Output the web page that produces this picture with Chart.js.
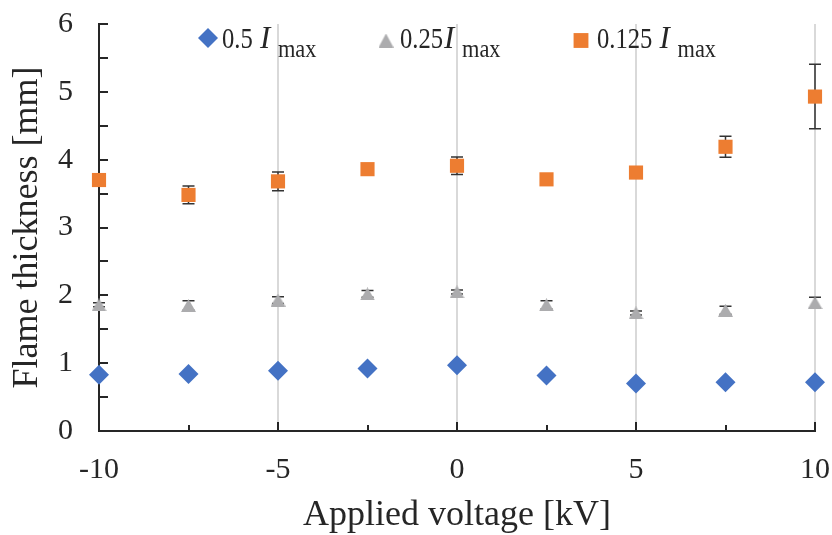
<!DOCTYPE html>
<html><head><meta charset="utf-8">
<script src="https://cdn.jsdelivr.net/npm/chart.js@4.4.1/dist/chart.umd.min.js"></script>
<style>html,body{margin:0;padding:0;background:#fff;}#wrap{position:relative;width:832px;height:535px;}canvas{display:block;}</style>
</head><body><div id="wrap"><canvas id="c" width="832" height="535"></canvas></div>
<script>
// ---- data ----
const voltage = [-10, -7.5, -5, -2.5, 0, 2.5, 5, 7.5, 10];
const thickness050 = [0.83, 0.84, 0.89, 0.92, 0.97, 0.82, 0.70, 0.72, 0.72];
const thickness025 = [1.86, 1.85, 1.93, 2.02, 2.05, 1.86, 1.74, 1.78, 1.89];
const thickness0125 = [3.70, 3.48, 3.68, 3.86, 3.91, 3.71, 3.81, 4.19, 4.93];
const error050 = [0.02, 0.02, 0.02, 0.02, 0.02, 0.02, 0.02, 0.02, 0.02];
const error025 = [0.03, 0.07, 0.05, 0.05, 0.03, 0.06, 0.03, 0.06, 0.08];
const error0125 = [0.05, 0.13, 0.14, 0.05, 0.13, 0.05, 0.05, 0.155, 0.475];
const xTickValues = [-10, -5, 0, 5, 10];
const xMinorTickValues = [-10, -7.5, -5, -2.5, 0, 2.5, 5, 7.5, 10];
const yTickValues = [0, 1, 2, 3, 4, 5, 6];
const yMinorTickValues = [0, 0.5, 1, 1.5, 2, 2.5, 3, 3.5, 4, 4.5, 5, 5.5, 6];
const seriesNumbers = ['0.5 ', '0.25', '0.125 '];
const seriesSymbol = 'I';
const seriesSubscript = 'max';
const xTitle = 'Applied voltage [kV]';
const yTitle = 'Flame thickness [mm]';

// ---- styles ----
const FONT = "'Liberation Serif', 'Times New Roman', serif";
const TEXT = '#262626';
const BLUE = '#4472C4', GREY = '#ACACAE', ORANGE = '#ED7D31';

function triangleImage(w, h, color) {
  const c = document.createElement('canvas');
  c.width = w; c.height = h;
  const g = c.getContext('2d');
  g.fillStyle = color;
  g.beginPath(); g.moveTo(w / 2, 0); g.lineTo(w, h); g.lineTo(0, h); g.closePath(); g.fill();
  return c;
}
const triImg = triangleImage(15, 13, GREY);
const triImgLegend = triangleImage(15, 14, GREY);

const pts = arr => voltage.map((v, i) => ({ x: v, y: arr[i] }));

const errorBars = {
  id: 'errorBars',
  beforeDatasetsDraw(chart) {
    const { ctx, scales: { x, y } } = chart;
    ctx.save();
    ctx.strokeStyle = '#333333';
    ctx.lineWidth = 1.5;
    chart.data.datasets.forEach(ds => {
      const err = ds.errors;
      if (!err) return;
      ds.data.forEach((p, i) => {
        const px = x.getPixelForValue(p.x);
        const top = y.getPixelForValue(p.y + err[i]);
        const bot = y.getPixelForValue(p.y - err[i]);
        ctx.beginPath();
        ctx.moveTo(px, top); ctx.lineTo(px, bot);
        ctx.moveTo(px - 6, top); ctx.lineTo(px + 6, top);
        ctx.moveTo(px - 6, bot); ctx.lineTo(px + 6, bot);
        ctx.stroke();
      });
    });
    ctx.restore();
  }
};

const axisTicks = {
  id: 'axisTicks',
  beforeDatasetsDraw(chart) {
    const { ctx, chartArea: a, scales: { x, y } } = chart;
    ctx.save();
    ctx.strokeStyle = TEXT;
    ctx.lineWidth = 2;
    ctx.beginPath();
    xMinorTickValues.forEach(v => {
      const px = Math.round(x.getPixelForValue(v));
      const len = xTickValues.includes(v) ? 9 : 6;
      ctx.moveTo(px, a.bottom); ctx.lineTo(px, a.bottom - len);
    });
    yMinorTickValues.forEach(v => {
      const py = Math.round(y.getPixelForValue(v));
      ctx.moveTo(a.left, py); ctx.lineTo(a.left + 9, py);
    });
    ctx.stroke();
    ctx.restore();
  }
};

const legendPlugin = {
  id: 'customLegend',
  afterDraw(chart) {
    const ctx = chart.ctx;
    const items = [
      { mx: 208, my: 38, tx: 222, style: 'rectRot', r: 10, color: BLUE },
      { mx: 386, my: 40.5, tx: 400, style: triImgLegend, r: 9, color: GREY },
      { mx: 581, my: 40.5, tx: 597, style: 'rect', r: 10.5, color: ORANGE }
    ];
    const base = 48;
    const sx = 0.82;
    items.forEach((it, i) => {
      ctx.save();
      ctx.fillStyle = it.color;
      Chart.helpers.drawPoint(ctx, { pointStyle: it.style, radius: it.r, borderWidth: 0, rotation: 0 }, it.mx, it.my);
      ctx.restore();
      ctx.save();
      ctx.fillStyle = TEXT;
      ctx.textBaseline = 'alphabetic';
      ctx.textAlign = 'left';
      ctx.font = '30px ' + FONT;
      const numW = ctx.measureText(seriesNumbers[i]).width * sx;
      ctx.save();
      ctx.translate(it.tx, base);
      ctx.scale(sx, 1);
      ctx.fillText(seriesNumbers[i], 0, 0);
      ctx.restore();
      const ix = it.tx + numW + 1;
      ctx.font = 'italic 31px ' + FONT;
      ctx.fillText(seriesSymbol, ix, base);
      ctx.save();
      ctx.translate(ix + 18, base + 8.7);
      ctx.scale(sx + 0.04, 1);
      ctx.font = '26px ' + FONT;
      ctx.fillText(seriesSubscript, 0, 0);
      ctx.restore();
      ctx.restore();
    });
  }
};

new Chart(document.getElementById('c'), {
  type: 'scatter',
  data: {
    datasets: [
      { label: '0.5 Imax', data: pts(thickness050), errors: error050, clip: false, pointStyle: 'rectRot', pointRadius: 10, pointHoverRadius: 10, backgroundColor: BLUE, borderColor: BLUE, borderWidth: 0 },
      { label: '0.25 Imax', data: pts(thickness025), errors: error025, clip: false, pointStyle: triImg, pointRadius: 8, backgroundColor: GREY, borderColor: GREY, borderWidth: 0 },
      { label: '0.125 Imax', data: pts(thickness0125), errors: error0125, clip: false, pointStyle: 'rect', pointRadius: 10, pointHoverRadius: 10, backgroundColor: ORANGE, borderColor: ORANGE, borderWidth: 0 }
    ]
  },
  options: {
    responsive: false,
    animation: false,
    devicePixelRatio: 1,
    layout: { padding: { top: 24, right: 17, bottom: 0, left: 0 } },
    plugins: { legend: { display: false }, tooltip: { enabled: false } },
    scales: {
      x: {
        type: 'linear', min: -10, max: 10,
        afterBuildTicks: s => { s.ticks = xTickValues.map(v => ({ value: v })); },
        afterFit: s => { s.height = 104; s.paddingLeft = 0; s.paddingRight = 0; },
        ticks: { font: { family: FONT, size: 30 }, color: TEXT, padding: 21, maxRotation: 0, autoSkip: false, callback: v => String(v) },
        grid: { color: c => (c.tick && c.tick.value === -10) ? 'rgba(0,0,0,0)' : '#D9D9D9', lineWidth: 2, drawTicks: false },
        border: { display: true, color: TEXT, width: 2 },
        title: { display: true, text: xTitle, color: TEXT, font: { family: FONT, size: 36, lineHeight: 1 }, padding: { top: 0, bottom: 1 } }
      },
      y: {
        type: 'linear', min: 0, max: 6,
        afterBuildTicks: s => { s.ticks = yTickValues.map(v => ({ value: v })); },
        afterFit: s => { s.width = 99; s.paddingTop = 0; s.paddingBottom = 0; },
        ticks: { font: { family: FONT, size: 30 }, color: TEXT, padding: 26, autoSkip: false, callback: v => String(v) },
        grid: { color: 'rgba(0,0,0,0)', drawTicks: false, lineWidth: 2 },
        border: { display: true, color: TEXT, width: 2 },
        title: { display: true, text: yTitle, color: TEXT, font: { family: FONT, size: 36, lineHeight: 1 }, padding: { top: 10, bottom: 0 } }
      }
    }
  },
  plugins: [axisTicks, errorBars, legendPlugin]
});
</script></body></html>
